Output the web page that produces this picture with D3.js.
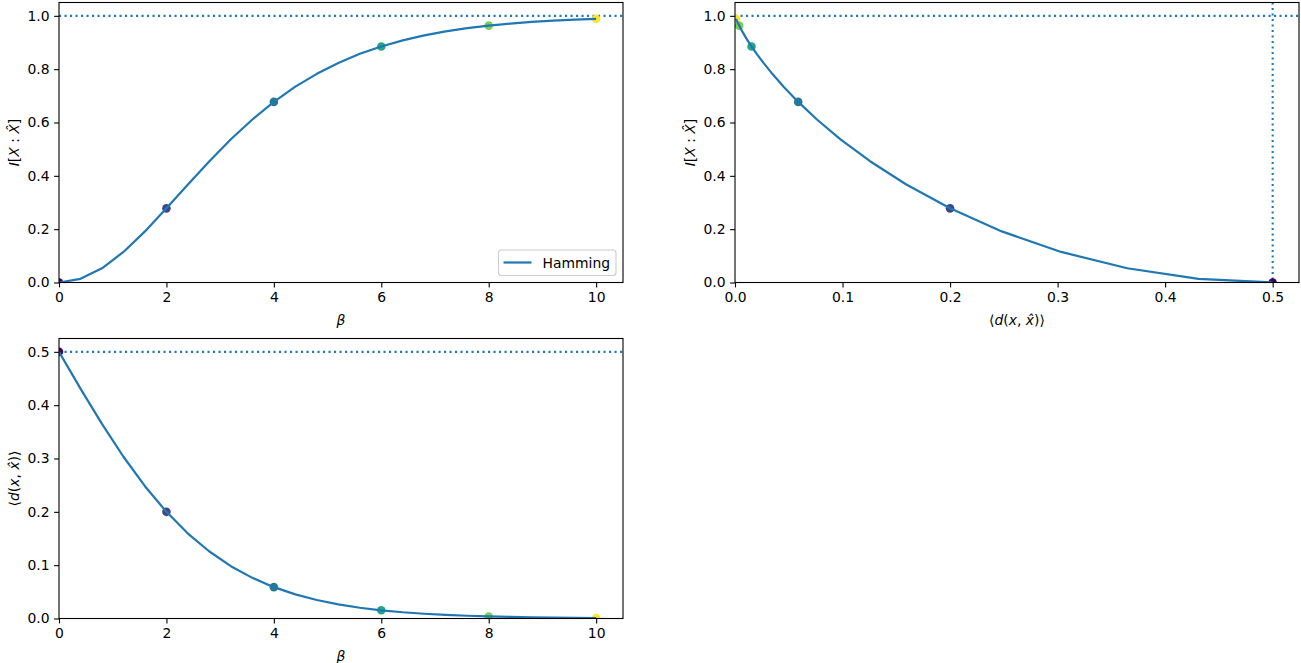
<!DOCTYPE html>
<html>
<head>
<meta charset="utf-8">
<script src="https://cdn.jsdelivr.net/npm/d3@7"></script>
<style>
  body { margin: 0; background: #fff; }
  svg text { font-family: "DejaVu Sans", sans-serif; }
  .tick text { font-size: 13.9px; fill: #000; }
  .tick line { stroke: #000; stroke-width: 1.1; }
</style>
</head>
<body>
<div id="chart"></div>
<script>
// *** Rate-distortion curves, Hamming distortion ***

// beta grid (step 0.4)
let beta = [0, 0.4, 0.8, 1.2, 1.6, 2.0, 2.4, 2.8, 3.2, 3.6, 4.0, 4.4, 4.8,
    5.2, 5.6, 6.0, 6.4, 6.8, 7.2, 7.6, 8.0, 8.4, 8.8, 9.2, 9.6, 10.0];

// mutual information I[X:X^]
let info = [0, 0.0137, 0.0534, 0.1146, 0.1917, 0.2781, 0.3674, 0.4548, 0.5370,
    0.6113, 0.6773, 0.7344, 0.7825, 0.8235, 0.8575, 0.8852, 0.9081, 0.9266,
    0.9416, 0.9536, 0.9633, 0.9709, 0.9771, 0.9819, 0.9858, 0.9888];

// expected distortion <d(x,x^)>
let dist = [0.5, 0.4311, 0.3648, 0.3033, 0.2481, 0.2, 0.1593, 0.1256, 0.0981,
    0.0762, 0.0588, 0.0452, 0.0347, 0.0265, 0.0202, 0.0154, 0.0117, 0.0089,
    0.00676, 0.00513, 0.00389, 0.00295, 0.00224, 0.00170, 0.00129, 0.00098];

// highlighted beta values (scatter points)
let markBeta = [0, 2, 4, 6, 8, 10];

let svgWidth = 1301;
let svgHeight = 663;
let blue = "#1f77b4";

let svg = d3.select("#chart")
    .append("svg")
    .attr("width", svgWidth)
    .attr("height", svgHeight);

// the three axes boxes (pixel frames)
let panels = [
    {left: 59, right: 623, top: 2.5, bottom: 282.5},
    {left: 735, right: 1299, top: 2.5, bottom: 282.5},
    {left: 59, right: 623, top: 338.5, bottom: 618.5}
];

let markIdx = markBeta.map(b => beta.indexOf(b));
let colorScale = d3.scaleSequential(d3.interpolateViridis).domain([0, 10]);

// math-ish label writer: parts = [[text, italic], ...]
function mathLabel(sel, parts) {
    parts.forEach(function(p) {
        sel.append("tspan")
            .attr("font-style", p[1] ? "italic" : "normal")
            .text(p[0]);
    });
}
let labelI = [["I", true], ["[", false], ["X", true], [" : ", false], ["X\u0302", true], ["]", false]];
let labelD = [["\u27E8", false], ["d", true], ["(", false], ["x", true], [", ", false], ["x\u0302", true], [")\u27E9", false]];
let labelB = [["\u03B2", true]];

function drawPanel(i, xs, ys, xDomain, yDomain, xTicks, yTicks, xFmt, yFmt, xLab, yLab, extra) {
    let p = panels[i];
    let w = p.right - p.left;
    let h = p.bottom - p.top;

    let g = svg.append("g").attr("transform", `translate(${p.left},${p.top})`);

    let x = d3.scaleLinear().domain(xDomain).range([0, w]);
    let y = d3.scaleLinear().domain(yDomain).range([h, 0]);

    g.append("clipPath").attr("id", "clip" + i)
        .append("rect").attr("width", w).attr("height", h);

    let plot = g.append("g").attr("clip-path", `url(#clip${i})`);

    // reference lines (dotted)
    extra(plot, x, y, w, h);

    // scatter points (under the line)
    plot.selectAll("circle")
        .data(markIdx)
        .enter()
        .append("circle")
        .attr("cx", d => x(xs[d]))
        .attr("cy", d => y(ys[d]))
        .attr("r", 4.3)
        .attr("fill", d => colorScale(beta[d]));

    let line = d3.line()
        .x(d => x(xs[d]))
        .y(d => y(ys[d]));

    plot.append("path")
        .datum(d3.range(beta.length))
        .attr("d", line)
        .attr("fill", "none")
        .attr("stroke", blue)
        .attr("stroke-width", 2.2)
        .attr("stroke-linejoin", "round");

    // axes
    let xAxis = g.append("g")
        .attr("transform", `translate(0,${h})`)
        .call(d3.axisBottom(x).tickValues(xTicks).tickFormat(xFmt)
            .tickSizeInner(4.9).tickSizeOuter(0).tickPadding(4.5));
    let yAxis = g.append("g")
        .call(d3.axisLeft(y).tickValues(yTicks).tickFormat(yFmt)
            .tickSizeInner(4.9).tickSizeOuter(0).tickPadding(4.5));
    xAxis.select(".domain").remove();
    yAxis.select(".domain").remove();
    xAxis.selectAll(".tick text").attr("font-family", null);
    yAxis.selectAll(".tick text").attr("font-family", null);

    // frame
    g.append("rect")
        .attr("width", w)
        .attr("height", h)
        .attr("fill", "none")
        .attr("stroke", "#000")
        .attr("stroke-width", 1.1);

    // axis labels
    let xl = g.append("text")
        .attr("x", w / 2)
        .attr("y", h + 42)
        .attr("text-anchor", "middle")
        .attr("font-size", "13.9px");
    mathLabel(xl, xLab);

    let yl = g.append("text")
        .attr("transform", `translate(-40,${h / 2}) rotate(-90)`)
        .attr("text-anchor", "middle")
        .attr("font-size", "13.9px");
    mathLabel(yl, yLab);

    return {g: g, x: x, y: y, w: w, h: h};
}

function hline(val) {
    return function(plot, x, y, w, h) {
        plot.append("line")
            .attr("x1", 0).attr("x2", w)
            .attr("y1", y(val)).attr("y2", y(val))
            .attr("stroke", blue)
            .attr("stroke-width", 2.1)
            .attr("stroke-dasharray", "2.1,3.4");
    };
}

let fmt1 = d3.format(".1f");
let fmt0 = d3.format("d");

// Panel 1: I vs beta
let p1 = drawPanel(0, beta, info, [0, 10.5], [0, 1.05],
    [0, 2, 4, 6, 8, 10], [0, 0.2, 0.4, 0.6, 0.8, 1.0], fmt0, fmt1,
    labelB, labelI, hline(1.0));

// Legend
let leg = p1.g.append("g").attr("transform", `translate(${p1.w - 124.5},${p1.h - 32.5})`);
leg.append("rect")
    .attr("width", 117.5)
    .attr("height", 25.5)
    .attr("rx", 3)
    .attr("fill", "#fff")
    .attr("fill-opacity", 0.8)
    .attr("stroke", "#cccccc")
    .attr("stroke-width", 1.1);
leg.append("line")
    .attr("x1", 5).attr("x2", 33)
    .attr("y1", 12.5).attr("y2", 12.5)
    .attr("stroke", blue)
    .attr("stroke-width", 2.2);
leg.append("text")
    .attr("x", 44)
    .attr("y", 17.5)
    .attr("font-size", "13.9px")
    .text("Hamming");

// Panel 2: I vs distortion
drawPanel(1, dist, info, [0, 0.5245], [0, 1.05],
    [0, 0.1, 0.2, 0.3, 0.4, 0.5], [0, 0.2, 0.4, 0.6, 0.8, 1.0], fmt1, fmt1,
    labelD, labelI, function(plot, x, y, w, h) {
        hline(1.0)(plot, x, y, w, h);
        plot.append("line")
            .attr("x1", x(0.5)).attr("x2", x(0.5))
            .attr("y1", 0).attr("y2", h)
            .attr("stroke", blue)
            .attr("stroke-width", 2.1)
            .attr("stroke-dasharray", "2.1,3.4");
    });

// Panel 3: distortion vs beta
drawPanel(2, beta, dist, [0, 10.5], [0, 0.525],
    [0, 2, 4, 6, 8, 10], [0, 0.1, 0.2, 0.3, 0.4, 0.5], fmt0, fmt1,
    labelB, labelD, hline(0.5));
</script>
</body>
</html>
